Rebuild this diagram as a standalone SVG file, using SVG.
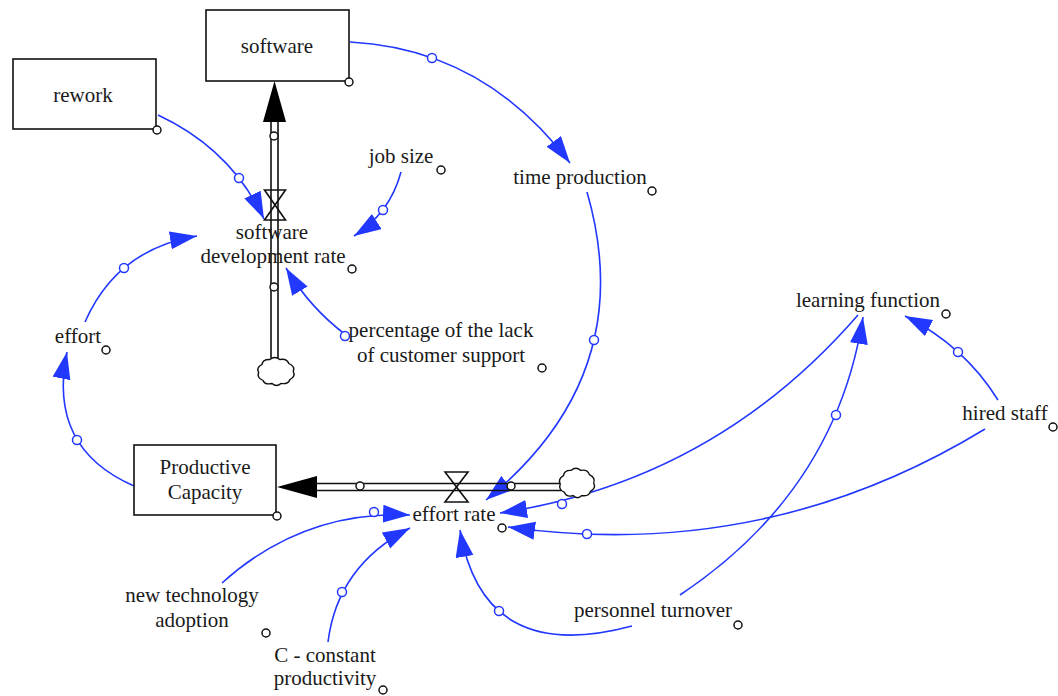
<svg xmlns="http://www.w3.org/2000/svg" width="1058" height="696" viewBox="0 0 1058 696">
  <style>
    text { font-family: "Liberation Serif", "Times New Roman", serif; font-size: 21px; fill: #1a1a1a; text-anchor: middle; }
    .stock { fill: #ffffff; stroke: #111111; stroke-width: 1.6; }
    .pipe { fill: none; stroke: #111111; stroke-width: 1.6; }
    .valve { fill: none; stroke: #111111; stroke-width: 1.6; stroke-linejoin: miter; }
    .flowhead { fill: #000000; stroke: none; }
    .cloud { fill: #ffffff; stroke: #111111; stroke-width: 1.3; }
    .handle { fill: #ffffff; stroke: #111111; stroke-width: 1.5; }
    .link { fill: none; stroke: #2238ff; stroke-width: 1.6; marker-end: url(#arrow); }
    .knob { fill: #ffffff; stroke: #2238ff; stroke-width: 1.5; }
  </style>
  <defs>
    <marker id="arrow" markerUnits="userSpaceOnUse" markerWidth="30" markerHeight="20" refX="27" refY="9" orient="auto">
      <path d="M0,0 L27,9 L0,18 Z" fill="#2238ff"/>
    </marker>
    <path id="cloudShape" class="cloud" d="M-13,-7 Q-12.3,-12.3 -6,-12 Q-1.5,-16 3,-12 Q9.3,-13.3 11,-8 Q16.8,-5.2 15,0 Q17.3,5.1 12,8 Q10.5,13.1 4,12 Q0,16 -4,12 Q-10.4,13.7 -12,9 Q-17.8,6.4 -16,1 Q-18.4,-3.8 -13,-7 Z"/>
  </defs>
  <rect width="1058" height="696" fill="#ffffff"/>

  <!-- connectors (information links) -->
  <g id="connectors">
    <path class="link" d="M350,42 Q484,49 570,163"/>
    <circle class="knob" cx="432" cy="58" r="4.5"/>
    <path class="link" d="M158,115 Q231,149 264,219"/>
    <circle class="knob" cx="239" cy="178" r="4.5"/>
    <path class="link" d="M401,172 Q390,213 354,236"/>
    <circle class="knob" cx="383" cy="210" r="4.5"/>
    <path class="link" d="M346,335 Q310,308 286,268"/>
    <circle class="knob" cx="345" cy="336" r="4.5"/>
    <path class="link" d="M85,322 Q117,249 197,236"/>
    <circle class="knob" cx="124" cy="268" r="4.5"/>
    <path class="link" d="M134,486 Q47,448 67,352"/>
    <circle class="knob" cx="77" cy="440" r="4.5"/>
    <path class="link" d="M587,192 Q640,375 486,500"/>
    <circle class="knob" cx="594" cy="340" r="4.5"/>
    <path class="link" d="M858,315 Q714,481 500,513"/>
    <circle class="knob" cx="562" cy="504" r="4.5"/>
    <path class="link" d="M985,429 Q765,563 508,527"/>
    <circle class="knob" cx="587" cy="534" r="4.5"/>
    <path class="link" d="M998,400 Q964.5,346 905,316"/>
    <circle class="knob" cx="958" cy="352" r="4.5"/>
    <path class="link" d="M680,595 Q836,491 863,317"/>
    <circle class="knob" cx="836" cy="415" r="4.5"/>
    <path class="link" d="M632,626 Q483,666 460,530"/>
    <circle class="knob" cx="499" cy="611" r="4.5"/>
    <path class="link" d="M222,583 Q303,510 410,515"/>
    <circle class="knob" cx="374" cy="512" r="4.5"/>
    <path class="link" d="M328,642 Q337.5,565.6 410,528"/>
    <circle class="knob" cx="342" cy="592" r="4.5"/>
  </g>

  <!-- stocks -->
  <g id="software">
    <rect class="stock" x="206" y="10" width="143" height="71"/>
    <text x="277" y="53">software</text>
    <circle class="handle" cx="349" cy="82" r="4"/>
  </g>
  <g id="rework">
    <rect class="stock" x="13" y="59" width="143" height="70"/>
    <text x="83" y="102">rework</text>
    <circle class="handle" cx="157" cy="130" r="4"/>
  </g>
  <g id="productive-capacity">
    <rect class="stock" x="134" y="445" width="142" height="70"/>
    <text x="205" y="474">Productive</text>
    <text x="205" y="499">Capacity</text>
    <circle class="handle" cx="277" cy="516" r="4"/>
  </g>

  <!-- flow: software development rate (cloud to software) -->
  <g id="software-development-rate">
    <path class="pipe" d="M271,120 V358 M278,120 V358"/>
    <polygon class="flowhead" points="274.5,81 263,122 286,122"/>
    <use href="#cloudShape" transform="translate(276.5,371.5) scale(1.12,1)"/>
    <path class="valve" d="M264.5,190 H285.5 L264.5,220 H285.5 Z"/>
    <circle class="handle" cx="274" cy="136" r="4"/>
    <circle class="handle" cx="274" cy="287" r="4"/>
    <text x="272" y="239">software</text>
    <text x="273" y="263">development rate</text>
    <circle class="handle" cx="352" cy="269" r="4"/>
  </g>

  <!-- flow: effort rate (cloud to Productive Capacity) -->
  <g id="effort-rate">
    <path class="pipe" d="M314,483.5 H561 M314,490.5 H561"/>
    <polygon class="flowhead" points="277,487 317,476 317,498"/>
    <use href="#cloudShape" transform="translate(577.5,483) scale(1.08,1.05)"/>
    <path class="valve" d="M445,472 H468 L445,502 H468 Z"/>
    <circle class="handle" cx="360" cy="486" r="4"/>
    <circle class="handle" cx="511" cy="486" r="4"/>
    <text x="454" y="521">effort rate</text>
    <circle class="handle" cx="502" cy="528" r="4"/>
  </g>

  <!-- auxiliary variables -->
  <g id="job-size">
    <text x="401" y="163">job size</text>
    <circle class="handle" cx="441" cy="170" r="4"/>
  </g>
  <g id="time-production">
    <text x="580" y="184">time production</text>
    <circle class="handle" cx="652" cy="191" r="4"/>
  </g>
  <g id="customer-support">
    <text x="441" y="337">percentage of the lack</text>
    <text x="441" y="362">of customer support</text>
    <circle class="handle" cx="542" cy="368" r="4"/>
  </g>
  <g id="effort">
    <text x="78" y="343">effort</text>
    <circle class="handle" cx="106" cy="350" r="4"/>
  </g>
  <g id="learning-function">
    <text x="868" y="307">learning function</text>
    <circle class="handle" cx="946" cy="314" r="4"/>
  </g>
  <g id="hired-staff">
    <text x="1005" y="420">hired staff</text>
    <circle class="handle" cx="1053" cy="427" r="4"/>
  </g>
  <g id="new-technology-adoption">
    <text x="192" y="602">new technology</text>
    <text x="192" y="627">adoption</text>
    <circle class="handle" cx="266" cy="633" r="4"/>
  </g>
  <g id="constant-productivity">
    <text x="325" y="662">C - constant</text>
    <text x="325" y="685">productivity</text>
    <circle class="handle" cx="383" cy="690" r="4"/>
  </g>
  <g id="personnel-turnover">
    <text x="653" y="617">personnel turnover</text>
    <circle class="handle" cx="738" cy="625" r="4"/>
  </g>
</svg>
